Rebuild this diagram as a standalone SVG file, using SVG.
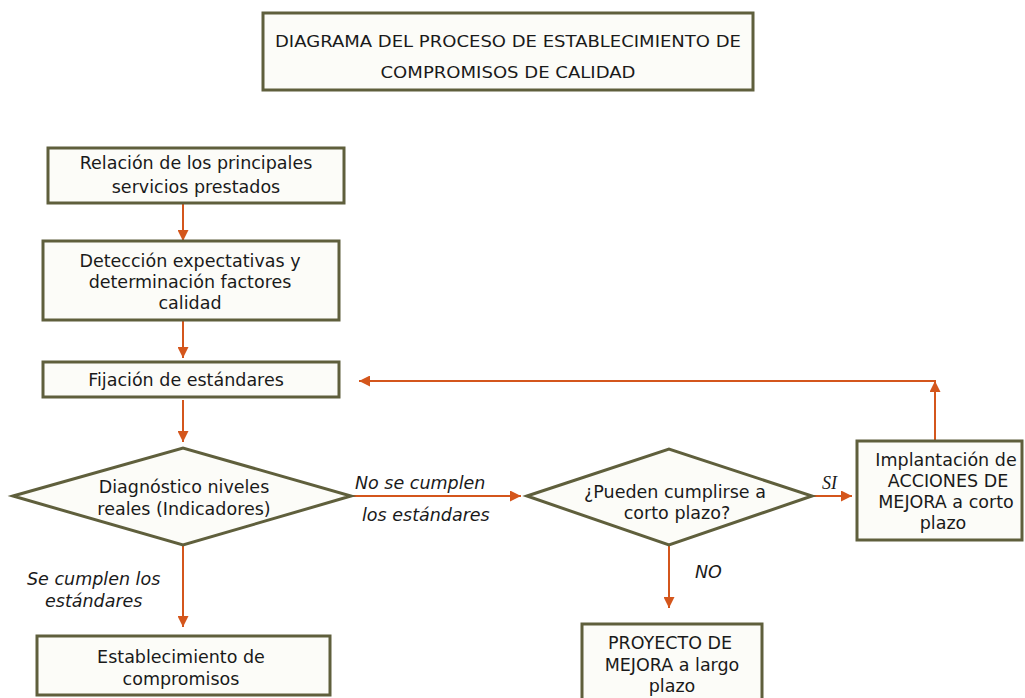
<svg xmlns="http://www.w3.org/2000/svg" width="1025" height="698" viewBox="0 0 1025 698">
<style>
.box{fill:#fcfcf8;stroke:#5f5f3c;stroke-width:3}
.t{font-family:"DejaVu Sans",Verdana,sans-serif;font-size:17.5px;fill:#1a1a1a;text-anchor:middle}
.ti{font-family:"DejaVu Sans",Verdana,sans-serif;font-size:17.5px;font-style:italic;fill:#1a1a1a}
.c{fill:none;stroke:#d4561c;stroke-width:2}
</style>
<defs>
<marker id="ah" viewBox="0 0 10 10" refX="10" refY="5" markerWidth="11" markerHeight="11" markerUnits="userSpaceOnUse" orient="auto">
<path d="M0,0 L10,5 L0,10 z" fill="#d4561c"/>
</marker>
</defs>
<rect width="1025" height="698" fill="#ffffff"/>
<g id="title">
<rect class="box" x="263" y="13" width="490" height="77" fill="#f6f6f0"/>
<text class="t" x="508" y="47" style="font-size:16px" textLength="466" lengthAdjust="spacingAndGlyphs">DIAGRAMA DEL PROCESO DE ESTABLECIMIENTO DE</text>
<text class="t" x="508" y="78" style="font-size:16px" textLength="255" lengthAdjust="spacingAndGlyphs">COMPROMISOS DE CALIDAD</text>
</g>
<g id="connectors">
<line class="c" x1="183" y1="204" x2="183" y2="241" marker-end="url(#ah)"/>
<line class="c" x1="183" y1="321" x2="183" y2="358" marker-end="url(#ah)"/>
<line class="c" x1="183" y1="400" x2="183" y2="442" marker-end="url(#ah)"/>
<line class="c" x1="351" y1="496" x2="521" y2="496" marker-end="url(#ah)"/>
<line class="c" x1="183" y1="546" x2="183" y2="627" marker-end="url(#ah)"/>
<line class="c" x1="812" y1="496" x2="852" y2="496" marker-end="url(#ah)"/>
<polyline class="c" points="935,440 935,381 359,381" marker-end="url(#ah)"/>
<line class="c" x1="935" y1="405" x2="935" y2="381" marker-end="url(#ah)"/>
<line class="c" x1="669" y1="546" x2="669" y2="608" marker-end="url(#ah)"/>
<text class="ti" x="355" y="489">No se cumplen</text>
<text class="ti" x="362" y="521">los estándares</text>
<text class="ti" x="27" y="585">Se cumplen los</text>
<text class="ti" x="45" y="607">estándares</text>
<text class="ti" x="695" y="578">NO</text>
<text x="822" y="489" style="font-family:'Liberation Serif',serif;font-style:italic;font-size:18px;fill:#1a1a1a">SI</text>
</g>
<g id="n1">
<rect class="box" x="48" y="148" width="296" height="55"/>
<text class="t" x="196" y="169">Relación de los principales</text>
<text class="t" x="196" y="193">servicios prestados</text>
</g>
<g id="n2">
<rect class="box" x="43" y="241" width="296" height="79"/>
<text class="t" x="190" y="267">Detección expectativas y</text>
<text class="t" x="190" y="288">determinación factores</text>
<text class="t" x="190" y="309">calidad</text>
</g>
<g id="n3">
<rect class="box" x="43" y="362" width="296" height="35"/>
<text class="t" x="186" y="386">Fijación de estándares</text>
</g>
<g id="d1">
<polygon class="box" points="13,496 183,448 351,496 183,545"/>
<text class="t" x="184" y="493">Diagnóstico niveles</text>
<text class="t" x="184" y="515">reales (Indicadores)</text>
</g>
<g id="n4">
<rect class="box" x="37" y="636" width="293" height="59"/>
<text class="t" x="181" y="663">Establecimiento de</text>
<text class="t" x="181" y="685">compromisos</text>
</g>
<g id="d2">
<polygon class="box" points="527,496 669,449 812,496 669,545"/>
<text class="t" x="675" y="498">¿Pueden cumplirse a</text>
<text class="t" x="677" y="519">corto plazo?</text>
</g>
<g id="n5">
<rect class="box" x="857" y="441" width="165" height="99"/>
<text class="t" x="946" y="466">Implantación de</text>
<text class="t" x="948" y="487">ACCIONES DE</text>
<text class="t" x="946" y="508">MEJORA a corto</text>
<text class="t" x="943" y="529">plazo</text>
</g>
<g id="n6">
<rect class="box" x="582" y="624" width="180" height="82"/>
<text class="t" x="670" y="649">PROYECTO DE</text>
<text class="t" x="672" y="671">MEJORA a largo</text>
<text class="t" x="672" y="692">plazo</text>
</g>
</svg>
